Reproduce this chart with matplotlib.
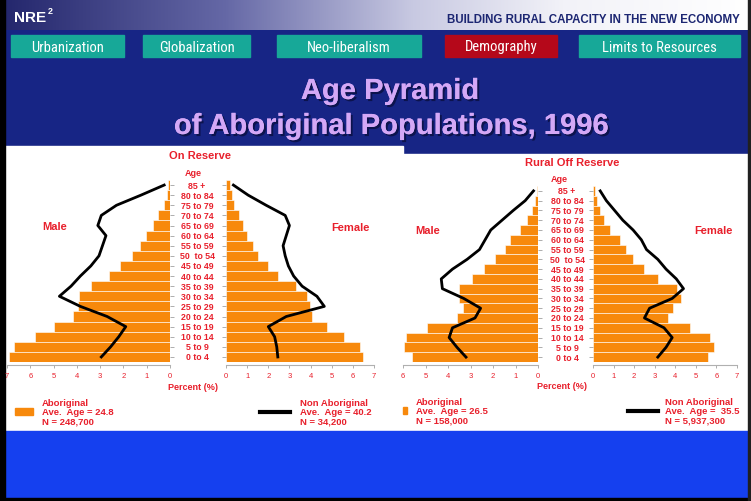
import numpy as np
import matplotlib
matplotlib.use("Agg")
import matplotlib.pyplot as plt
from matplotlib.patches import Rectangle
from matplotlib.colors import LinearSegmentedColormap
from matplotlib import font_manager
import matplotlib.patheffects as pe

plt.rcParams["font.family"] = ["Liberation Sans", "DejaVu Sans"]

W, H = 751, 502

# ---------------------------------------------------------------------------
# data (percent of population per age group, youngest first)
# ---------------------------------------------------------------------------
edades = ["0 to 4", "5 to 9", "10 to 14", "15 to 19", "20 to 24", "25 to 29",
          "30 to 34", "35 to 39", "40 to 44", "45 to 49", "50  to 54",
          "55 to 59", "60 to 64", "65 to 69", "70 to 74", "75 to 79",
          "80 to 84", "85 +"]

# On Reserve
res_hombres_abor = [6.9, 6.7, 5.8, 5.0, 4.15, 3.95, 3.9, 3.4, 2.6, 2.15,
                    1.65, 1.3, 1.05, 0.75, 0.5, 0.27, 0.15, 0.1]
res_mujeres_abor = [6.5, 6.35, 5.6, 4.8, 4.05, 3.95, 3.85, 3.3, 2.45, 2.0,
                    1.5, 1.3, 1.0, 0.8, 0.6, 0.4, 0.3, 0.2]
res_hombres_no = [2.95, 2.55, 2.2, 1.9, 2.7, 3.85, 4.75, 4.25, 3.85, 3.4,
                  3.05, 2.9, 2.75, 3.1, 2.95, 2.3, 1.25, 0.25]
res_mujeres_no = [2.45, 2.4, 2.3, 2.0, 2.85, 4.65, 4.3, 3.6, 3.2, 2.95,
                  2.8, 2.7, 2.85, 3.0, 2.8, 1.9, 1.05, 0.35]

# Rural Off Reserve
rur_hombres_abor = [5.6, 5.95, 5.85, 4.95, 3.6, 3.35, 3.5, 3.5, 2.95, 2.4,
                    1.9, 1.45, 1.25, 0.82, 0.5, 0.28, 0.13, 0.06]
rur_mujeres_abor = [5.6, 5.9, 5.7, 4.7, 3.65, 3.9, 4.3, 4.1, 3.15, 2.5,
                    1.95, 1.6, 1.3, 0.85, 0.55, 0.32, 0.2, 0.12]
rur_hombres_no = [3.2, 3.6, 3.95, 3.8, 2.8, 2.55, 3.3, 4.25, 4.3, 3.8,
                  3.15, 2.6, 2.35, 2.1, 1.6, 1.1, 0.57, 0.2]
rur_mujeres_no = [3.15, 3.55, 3.85, 3.45, 2.5, 2.75, 3.85, 4.4, 4.05, 3.55,
                  3.15, 2.6, 2.35, 1.95, 1.45, 1.05, 0.65, 0.35]

botones = ["Urbanization", "Globalization", "Neo-liberalism", "Demography",
           "Limits to Resources"]

ROJO = "#e8202c"
NARANJA = "#f7890c"
NAVY = "#172585"

# condensed face for the buttons, if there is one
instaladas = {f.name for f in font_manager.fontManager.ttflist}
estrecha = [f for f in ["Liberation Sans Narrow", "DejaVu Sans Condensed",
                        "Roboto Condensed", "Open Sans Condensed"]
            if f in instaladas]
fam_botones = (estrecha[:1] or ["Roboto"]) + ["DejaVu Sans"]
condensada = bool(estrecha)


def eje_px(fig, x0, y0, x1, y1):
    return fig.add_axes([x0 / W, 1 - y1 / H, (x1 - x0) / W, (y1 - y0) / H])


def piramide(fig, bg, hombres, mujeres, hombres_no, mujeres_no, caja_h,
             caja_m, y0, y1, lim_h, lim_m, xc):
    pos = np.arange(len(edades))
    for caja, vals, linea, lim, lado in [(caja_h, hombres, hombres_no, lim_h, "h"),
                                         (caja_m, mujeres, mujeres_no, lim_m, "m")]:
        ax = eje_px(fig, caja[0], y0, caja[1], y1)
        ax.barh(pos, vals, height=1.0, color=NARANJA, edgecolor="white",
                linewidth=0.4)
        ax.plot(linea, pos, color="black", lw=2.0)
        ax.set_ylim(-0.5, len(edades) - 0.5)
        if lado == "h":
            ax.set_xlim(lim, 0)
        else:
            ax.set_xlim(0, lim)
        ax.patch.set_alpha(0)
        ax.set_xticks(range(lim + 1))
        ax.tick_params(axis="x", colors="#a0a0a0", length=2.5, width=0.6,
                       labelcolor=ROJO, labelsize=5.5, pad=3)
        for t in ax.get_xticklabels():
            t.set_fontweight("bold")
        ax.set_yticks(pos)
        ax.set_yticklabels([])
        ax.tick_params(axis="y", colors="#a0a0a0", length=3, width=0.6,
                       left=(lado == "m"), right=(lado == "h"))
        for s in ["top", "left", "right"]:
            ax.spines[s].set_visible(False)
        ax.spines["bottom"].set_color("#b0b0b0")
        ax.spines["bottom"].set_linewidth(0.8)
        ax.spines["bottom"].set_position(("outward", 2))
    # age labels
    alto = (y1 - y0) / len(edades)
    for i, e in enumerate(edades):
        bg.text(xc, y1 - alto * (i + 0.5), e, ha="center", va="center",
                fontsize=6.3, fontweight="bold", color=ROJO, zorder=3)


fig = plt.figure(figsize=(W / 100, H / 100), dpi=100)
fig.patch.set_facecolor(NAVY)
bg = fig.add_axes([0, 0, 1, 1])
bg.axis("off")

# header gradient
cmap = LinearSegmentedColormap.from_list(
    "cab", [(0, "#23266c"), (0.3, "#6568a6"), (0.55, "#c8c9e2"),
            (0.75, "#f2f2f8"), (1, "#ffffff")])
bg.imshow(np.linspace(0, 1, 256)[None, :], cmap=cmap, aspect="auto",
          extent=(0, W, 31, 0), zorder=1)
bg.set_xlim(0, W)
bg.set_ylim(H, 0)
bg.text(14, 18, "NRE", color="white", fontsize=11, fontweight="bold",
        va="center", zorder=3)
bg.text(48, 11, "2", color="white", fontsize=6.5, fontweight="bold",
        va="center", zorder=3)
bg.text(740, 20, "BUILDING RURAL CAPACITY IN THE NEW ECONOMY", color="#1c2672",
        fontsize=8.3, fontweight="bold", ha="right", va="center", zorder=3)

# buttons
xs_botones = [(11, 124), (143, 250), (277, 421), (445, 557), (579, 740)]
for nombre, (a, b) in zip(botones, xs_botones):
    col = "#b5081a" if nombre == "Demography" else "#17a898"
    bg.add_patch(Rectangle((a, 36), b - a, 22, color=col, zorder=2))
    bg.text((a + b) / 2, 47.5, nombre, color="white",
            fontsize=10.5 if condensada else 9.5,
            ha="center", va="center", zorder=3, family=fam_botones)

# title
sombra = [pe.withSimplePatchShadow(offset=(1.5, -1.5), shadow_rgbFace="#0a0f40",
                                   alpha=0.8), pe.Normal()]
bg.text(390, 92, "Age Pyramid", ha="center", va="center", fontsize=21,
        fontweight="bold", color="#d4a8f6", path_effects=sombra)
bg.text(391, 127, "of Aboriginal Populations, 1996", ha="center", va="center",
        fontsize=21, fontweight="bold", color="#d4a8f6", path_effects=sombra)

# white panels and bottom band
bg.add_patch(Rectangle((5, 147), 398, 285, color="white", zorder=1))
bg.add_patch(Rectangle((403, 155), 346, 276, color="white", zorder=1))
bg.add_patch(Rectangle((0, 432), W, 70, color="#1540ef", zorder=1))
bg.add_patch(Rectangle((0, 0), 5, H, color="black", zorder=4))
bg.add_patch(Rectangle((0, 499), W, 3, color="black", zorder=4))
bg.add_patch(Rectangle((748, 0), 3, H, color="#202020", zorder=4))

# panel texts
kw = dict(color=ROJO, fontweight="bold", ha="center", va="center", zorder=3)
bg.text(200, 156, "On Reserve", fontsize=8, **kw)
bg.text(572, 163, "Rural Off Reserve", fontsize=8, **kw)
bg.text(193, 174, "Age", fontsize=6.5, **kw)
bg.text(559, 180, "Age", fontsize=6.5, **kw)
bg.text(55, 227, "Male", fontsize=8, **kw)
bg.text(350, 228, "Female", fontsize=8, **kw)
bg.text(428, 231, "Male", fontsize=8, **kw)
bg.text(713, 231, "Female", fontsize=8, **kw)
bg.text(193, 388, "Percent (%)", fontsize=6.5, **kw)
bg.text(562, 387, "Percent (%)", fontsize=6.5, **kw)

# legends
kl = dict(color=ROJO, fontweight="bold", ha="left", va="center", fontsize=6.8,
          linespacing=1.0, zorder=3)
bg.add_patch(Rectangle((15, 409), 18, 7, color=NARANJA, zorder=3))
bg.text(42, 413, "Aboriginal\nAve.  Age = 24.8\nN = 248,700", **kl)
bg.plot([260, 290], [413, 413], color="black", lw=3, zorder=3)
bg.text(300, 413, "Non Aboriginal\nAve.  Age = 40.2\nN = 34,200", **kl)
bg.add_patch(Rectangle((403, 408), 4, 7, color=NARANJA, zorder=3))
bg.text(416, 412, "Aboriginal\nAve.  Age = 26.5\nN = 158,000", **kl)
bg.plot([628, 658], [412, 412], color="black", lw=3, zorder=3)
bg.text(665, 412, "Non Aboriginal\nAve.  Age =  35.5\nN = 5,937,300", **kl)

piramide(fig, bg, res_hombres_abor, res_mujeres_abor, res_hombres_no,
         res_mujeres_no, (7, 170), (226, 374), 181, 363, 7, 7, 197)
piramide(fig, bg, rur_hombres_abor, rur_mujeres_abor, rur_hombres_no,
         rur_mujeres_no, (403, 538), (593, 737), 187, 363, 6, 7, 567)

fig.savefig("out.png", dpi=100, facecolor=fig.get_facecolor())
